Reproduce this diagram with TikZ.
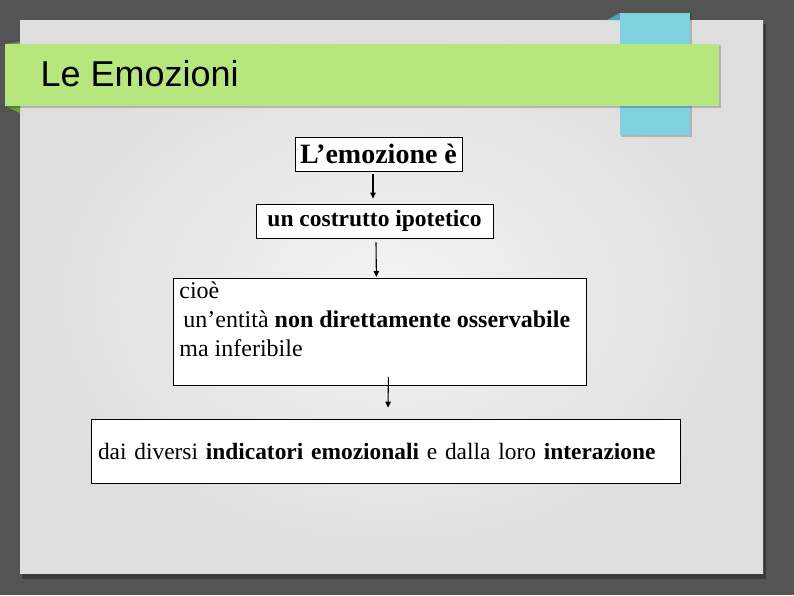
\documentclass[tikz,border=0pt]{standalone}
\usepackage{fontspec}
\setmainfont{Liberation Serif}
\newfontfamily\titlefont{Liberation Sans}
\usepackage{tikz}
\usetikzlibrary{arrows.meta}
\definecolor{bg}{HTML}{545454}
\definecolor{paper}{HTML}{F4F4F4}
\definecolor{paperedge}{HTML}{DEDEDE}
\definecolor{titlebar}{HTML}{B8E67E}
\definecolor{titledark}{HTML}{6F9B3C}
\definecolor{tab}{HTML}{80D1DF}
\definecolor{tabdark}{HTML}{4FA5B5}
\tikzset{
  box/.style={draw=black, line width=0.8pt, fill=white, inner sep=0pt},
  arr/.style={draw=black, line width=1.1pt, -{Triangle[length=6pt,width=5.5pt]}},
  ttl/.style={font=\titlefont\fontsize{36}{40}\selectfont, text=black},
  big/.style={font=\fontsize{28}{30}\selectfont\bfseries},
  bigish/.style={font=\fontsize{23.5}{28}\selectfont\bfseries},
  mid/.style={font=\fontsize{24}{29}\selectfont},
  low/.style={font=\fontsize{23.4}{28}\selectfont},
}

\begin{document}
\begin{tikzpicture}[x=1pt,y=-1pt]
  \useasboundingbox (0,0) rectangle (794,595);
  \fill[bg] (0,0) rectangle (794,595);
  % slide
  \fill[black, opacity=0.3] (22,24) rectangle (766,579);
  \shade[inner color=paper, outer color=paperedge] (20,20) rectangle (763,573);
  % tab and title bar
  \fill[tabdark] (607,20) -- (620,13) -- (620,20) -- cycle;
  \fill[black, opacity=0.2] (621,14) rectangle (692,137);
  \fill[tab] (620,13) rectangle (690,135);
  \fill[titledark] (5,106) -- (20,106) -- (20,113) -- cycle;
  \fill[titledark] (5,44) -- (20,44) -- (20,42) -- cycle;
  \fill[black, opacity=0.2] (6,45) rectangle (721,108);
  \fill[titlebar] (5,44) rectangle (719,106);
  \node[ttl, anchor=west] (title) at (37,74) {Le Emozioni};

  \node[box, big, minimum width=167pt, minimum height=34pt] (emo) at (378.5,154) {L’emozione è};
  \node[box, bigish, minimum width=237pt, minimum height=34pt] (costr) at (374.5,221) {un costrutto ipotetico};
  \node[box, mid, anchor=north west, inner xsep=6pt, inner ysep=3pt] (cioe) at (173,278)
    {\parbox[c][101pt][t]{401pt}{cioè\\\hspace*{4pt}un’entità \textbf{non direttamente osservabile}\\ma inferibile}};
  \node[box, low, minimum width=589pt, minimum height=64pt, text width=575pt, align=left, inner xsep=7pt] (indic) at (385.5,451)
    {dai diversi \textbf{indicatori emozionali} e dalla loro \textbf{interazione}};

  \draw[arr] ([xshift=-5.5pt,yshift=-3pt]emo.south) -- ([xshift=-1.5pt,yshift=5pt]costr.north);
  \draw[arr] ([xshift=1.5pt,yshift=-4pt]costr.south) -- ([xshift=-3.5pt,yshift=1pt]cioe.north);
  \draw[arr] ([xshift=8.5pt,yshift=9pt]cioe.south) -- ([xshift=2.5pt,yshift=11pt]indic.north);
\end{tikzpicture}
\end{document}
